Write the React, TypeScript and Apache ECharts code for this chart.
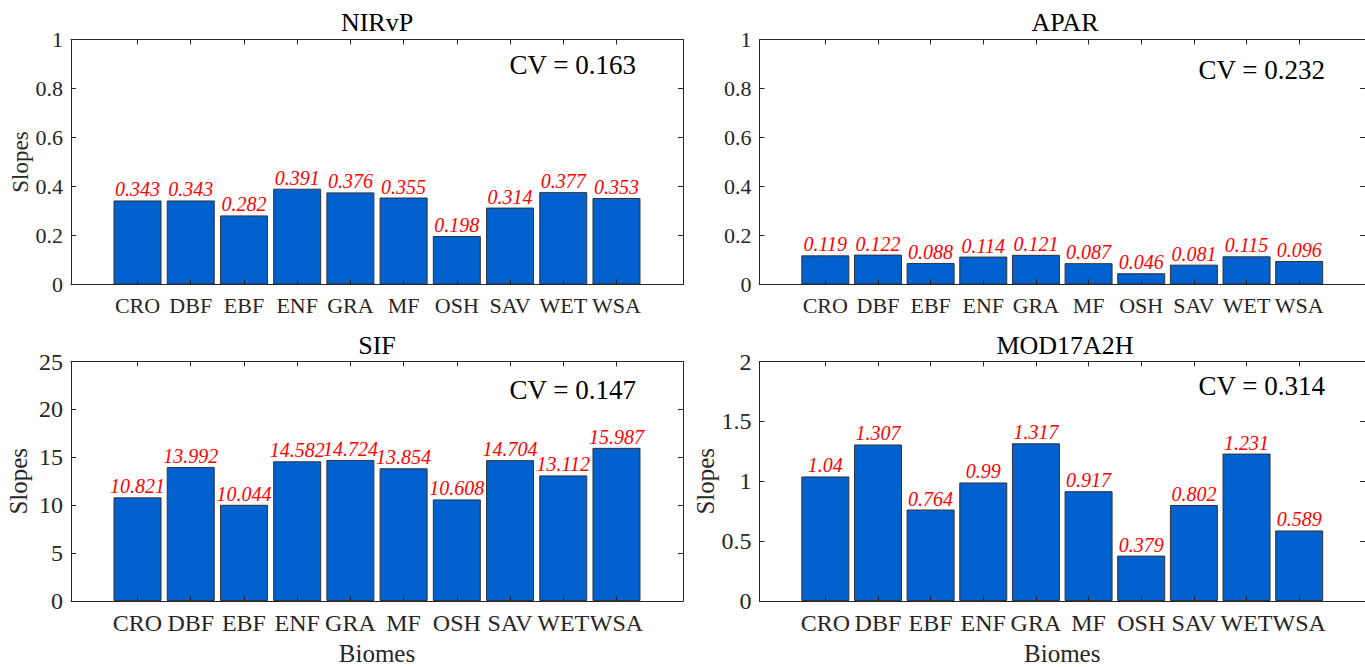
import React, { useEffect, useRef } from 'react';
import * as echarts from 'echarts';

const categories = ['CRO', 'DBF', 'EBF', 'ENF', 'GRA', 'MF', 'OSH', 'SAV', 'WET', 'WSA'];
const nirvp = [0.343, 0.343, 0.282, 0.391, 0.376, 0.355, 0.198, 0.314, 0.377, 0.353];
const apar = [0.119, 0.122, 0.088, 0.114, 0.121, 0.087, 0.046, 0.081, 0.115, 0.096];
const sif = [10.821, 13.992, 10.044, 14.582, 14.724, 13.854, 10.608, 14.704, 13.112, 15.987];
const mod17 = [1.04, 1.307, 0.764, 0.99, 1.317, 0.917, 0.379, 0.802, 1.231, 0.589];
const panelTitles = ['NIRvP', 'APAR', 'SIF', 'MOD17A2H'];
const cvTexts = ['CV = 0.163', 'CV = 0.232', 'CV = 0.147', 'CV = 0.314'];
const yMaxes = [1, 1, 25, 2];
const ySteps = [0.2, 0.2, 5, 0.5];

const FONT = 'Liberation Serif';
const AX = '#262626';

export default function App() {
  const ref = useRef<HTMLDivElement>(null);
  useEffect(() => {
    if (!ref.current) return;
    const chart = echarts.init(ref.current, null, { renderer: 'svg' });
    const seriesValues = [nirvp, apar, sif, mod17];
    const positions = categories.map((_, i) => i + 1);
    const layout = [
      { left: 71, top: 39.5, width: 612, height: 245, fs: 22, slopes: true, biomes: false, ySlopesFs: 23 },
      { left: 759.5, top: 39.5, width: 611, height: 245, fs: 22, slopes: false, biomes: false, ySlopesFs: 23 },
      { left: 71, top: 361.5, width: 612, height: 244, fs: 24, slopes: true, biomes: true, ySlopesFs: 25 },
      { left: 759.5, top: 361.5, width: 611, height: 244, fs: 24, slopes: true, biomes: true, ySlopesFs: 25 },
    ];
    const grids: any[] = [];
    const xAxes: any[] = [];
    const yAxes: any[] = [];
    const series: any[] = [];
    const graphics: any[] = [];
    const lineStyle = { color: AX, width: 1 };
    layout.forEach((g, i) => {
      grids.push({ left: g.left, top: g.top, width: g.width, height: g.height, containLabel: false });
      const xBase = {
        gridIndex: i,
        type: 'value',
        min: -0.25,
        max: 11.25,
        z: 5,
        splitLine: { show: false },
        axisLine: { show: true, onZero: false, lineStyle },
        axisTick: { show: true, inside: true, length: 5, customValues: positions, lineStyle },
      };
      xAxes.push({
        ...xBase,
        position: 'bottom',
        axisLabel: {
          show: true,
          customValues: positions,
          formatter: (v: number) => categories[Math.round(v) - 1] ?? '',
          fontFamily: FONT,
          fontSize: g.fs,
          color: AX,
          margin: 10,
        },
        name: g.biomes ? 'Biomes' : '',
        nameLocation: 'middle',
        nameGap: 40,
        nameTextStyle: { fontFamily: FONT, fontSize: 25, color: AX },
      });
      xAxes.push({ ...xBase, position: 'top', axisLabel: { show: false } });
      const yBase = {
        gridIndex: i,
        type: 'value',
        min: 0,
        max: yMaxes[i],
        interval: ySteps[i],
        z: 5,
        splitLine: { show: false },
        axisLine: { show: true, onZero: false, lineStyle },
        axisTick: { show: true, inside: true, length: 5, lineStyle },
      };
      yAxes.push({
        ...yBase,
        position: 'left',
        axisLabel: { show: true, fontFamily: FONT, fontSize: g.fs, color: AX, margin: 8 },
        name: g.slopes ? 'Slopes' : '',
        nameLocation: 'middle',
        nameRotate: 90,
        nameGap: g.fs === 22 ? 38 : 40,
        nameTextStyle: { fontFamily: FONT, fontSize: g.ySlopesFs, color: AX },
      });
      yAxes.push({ ...yBase, position: 'right', axisLabel: { show: false } });
      series.push({
        type: 'bar',
        xAxisIndex: 2 * i,
        yAxisIndex: 2 * i,
        barWidth: 48,
        data: positions.map((p, j) => [p, seriesValues[i][j]]),
        itemStyle: { color: '#0061CF', borderColor: '#333333', borderWidth: 1 },
        label: {
          show: true,
          position: 'top',
          distance: 1,
          color: '#FF0000',
          fontStyle: 'italic',
          fontFamily: FONT,
          fontSize: 20,
          formatter: (p: any) => String(p.value[1]),
        },
      });
      const cx = g.left + g.width / 2;
      graphics.push({
        type: 'text',
        x: cx,
        y: i < 2 ? 22 : 345,
        style: { text: panelTitles[i], fontFamily: FONT, fontSize: 26, fill: '#000', textAlign: 'center', textVerticalAlign: 'middle' },
      });
      const cvRight = i % 2 === 0 ? 636 : 1325;
      const cvY = [65, 70, 390, 386][i];
      graphics.push({
        type: 'text',
        x: cvRight,
        y: cvY,
        style: { text: cvTexts[i], fontFamily: FONT, fontSize: 27, fill: '#000', textAlign: 'right', textVerticalAlign: 'middle' },
      });
    });
    chart.setOption({
      animation: false,
      backgroundColor: '#ffffff',
      textStyle: { fontFamily: FONT },
      grid: grids,
      xAxis: xAxes,
      yAxis: yAxes,
      series,
      graphic: graphics,
    });
    return () => chart.dispose();
  }, []);
  return <div ref={ref} style={{ position: 'absolute', left: 0, top: 0, width: 1365, height: 667 }} />;
}
